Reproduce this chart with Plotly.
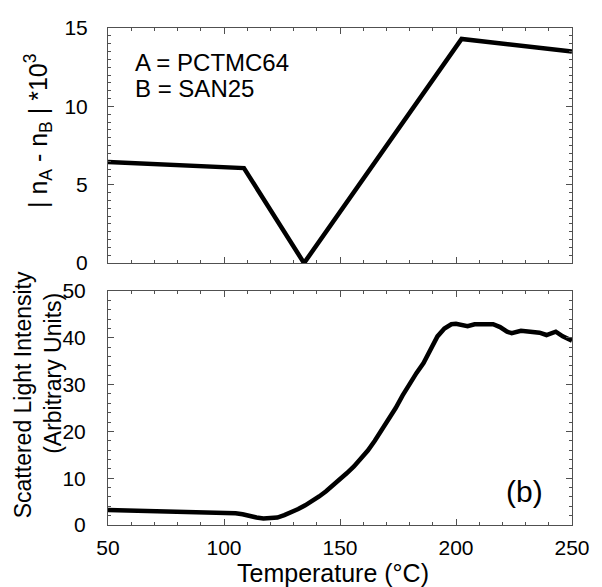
import plotly.graph_objects as go

# ---- data ----
# top panel: |nA - nB| * 10^3 vs temperature (piecewise linear)
top_temp = [50, 108.6, 134.5, 202.4, 250]
top_dn = [6.45, 6.06, 0.0, 14.3, 13.5]

# bottom panel: scattered light intensity vs temperature
bot_temp = [50, 60, 70, 80, 90, 100, 105, 108, 111, 114, 117, 120, 123, 126, 129,
            132, 135, 138, 141, 144, 147, 150, 153, 156, 159, 162, 165, 168, 171,
            174, 177, 180, 183, 186, 189, 192, 195, 198, 200, 202, 205, 208, 212,
            216, 219, 222, 224, 228, 232, 236, 239, 241, 243, 246, 250]
bot_int = [3.2, 3.1, 2.9, 2.8, 2.7, 2.6, 2.5, 2.3, 1.9, 1.6, 1.4, 1.4, 1.6, 2.1, 2.7,
           3.4, 4.2, 5.1, 6.1, 7.2, 8.4, 9.7, 11.1, 12.5, 14.1, 15.9, 18.0, 20.2, 22.5,
           25.0, 27.7, 30.3, 32.5, 34.6, 37.6, 40.3, 42.0, 42.9, 43.0, 42.7, 42.5, 42.9, 42.9,
           42.9, 42.3, 41.3, 41.0, 41.5, 41.3, 41.1, 40.6, 41.0, 41.3, 40.3, 39.4]

x_ticks = [50, 100, 150, 200, 250]
top_y_ticks = [0, 5, 10, 15]
bot_y_ticks = [0, 10, 20, 30, 40, 50]

FONT = "Liberation Sans, Arial, sans-serif"
AX = "#505050"

fig = go.Figure()
fig.add_trace(go.Scatter(x=bot_temp, y=bot_int, mode="lines",
                         line=dict(color="black", width=4.5), xaxis="x", yaxis="y",
                         showlegend=False))
fig.add_trace(go.Scatter(x=top_temp, y=top_dn, mode="lines",
                         line=dict(color="black", width=4.5), xaxis="x2", yaxis="y2",
                         showlegend=False))

common = dict(showline=True, linecolor=AX, linewidth=1, mirror="ticks",
              ticks="inside", ticklen=6, tickcolor=AX, tickwidth=1,
              showgrid=False, zeroline=False,
              tickfont=dict(family=FONT, size=21, color="black"))

fig.update_layout(
    width=602, height=587,
    margin=dict(l=108, r=23, t=28, b=62),
    paper_bgcolor="white", plot_bgcolor="white",
    font=dict(family=FONT, color="black"),
    xaxis=dict(domain=[0, 1], anchor="y", range=[50, 250], tickvals=x_ticks,
               ticklabelstandoff=4,
               minor=dict(ticks="inside", dtick=10, ticklen=3, tickcolor=AX), **common),
    yaxis=dict(domain=[0, 0.4708], anchor="x", range=[0, 50], tickvals=bot_y_ticks,
               ticklabelstandoff=17,
               minor=dict(ticks="inside", dtick=2, ticklen=3, tickcolor=AX), **common),
    xaxis2=dict(domain=[0, 1], anchor="y2", range=[50, 250], tickvals=x_ticks,
                showticklabels=False,
                minor=dict(ticks="inside", dtick=10, ticklen=3, tickcolor=AX), **common),
    yaxis2=dict(domain=[0.527, 1], anchor="x2", range=[0, 15], tickvals=top_y_ticks,
                ticklabelstandoff=15,
                minor=dict(ticks="inside", dtick=0.5, ticklen=3, tickcolor=AX), **common),
)

def px_x(px):
    return (px - 108) / 471.0

def px_y(py):
    return (525 - py) / 497.0

annos = [
    dict(text="Temperature (°C)", x=px_x(336), y=px_y(573), font=dict(size=25)),
    dict(text="Scattered Light Intensity", x=px_x(22), y=px_y(395), textangle=-90,
         font=dict(size=23)),
    dict(text="(Arbitrary Units)", x=px_x(52), y=px_y(373), textangle=-90,
         font=dict(size=23)),
    dict(text="| n<sub>A</sub> - n<sub>B</sub> | *10<sup>3</sup>", x=px_x(37), y=px_y(131),
         textangle=-90, font=dict(size=25)),
    dict(text="A = PCTMC64", x=px_x(133), y=px_y(62), xanchor="left",
         align="left", font=dict(size=24)),
    dict(text="B = SAN25", x=px_x(133), y=px_y(88), xanchor="left",
         align="left", font=dict(size=24)),
    dict(text="(b)", x=px_x(531), y=px_y(491), font=dict(size=30)),
]
for a in annos:
    a.setdefault("xanchor", "center")
    a.update(xref="paper", yref="paper", yanchor="middle", showarrow=False)
    a["font"].update(family=FONT, color="black")
    fig.add_annotation(**a)

fig.write_html("out.html")
